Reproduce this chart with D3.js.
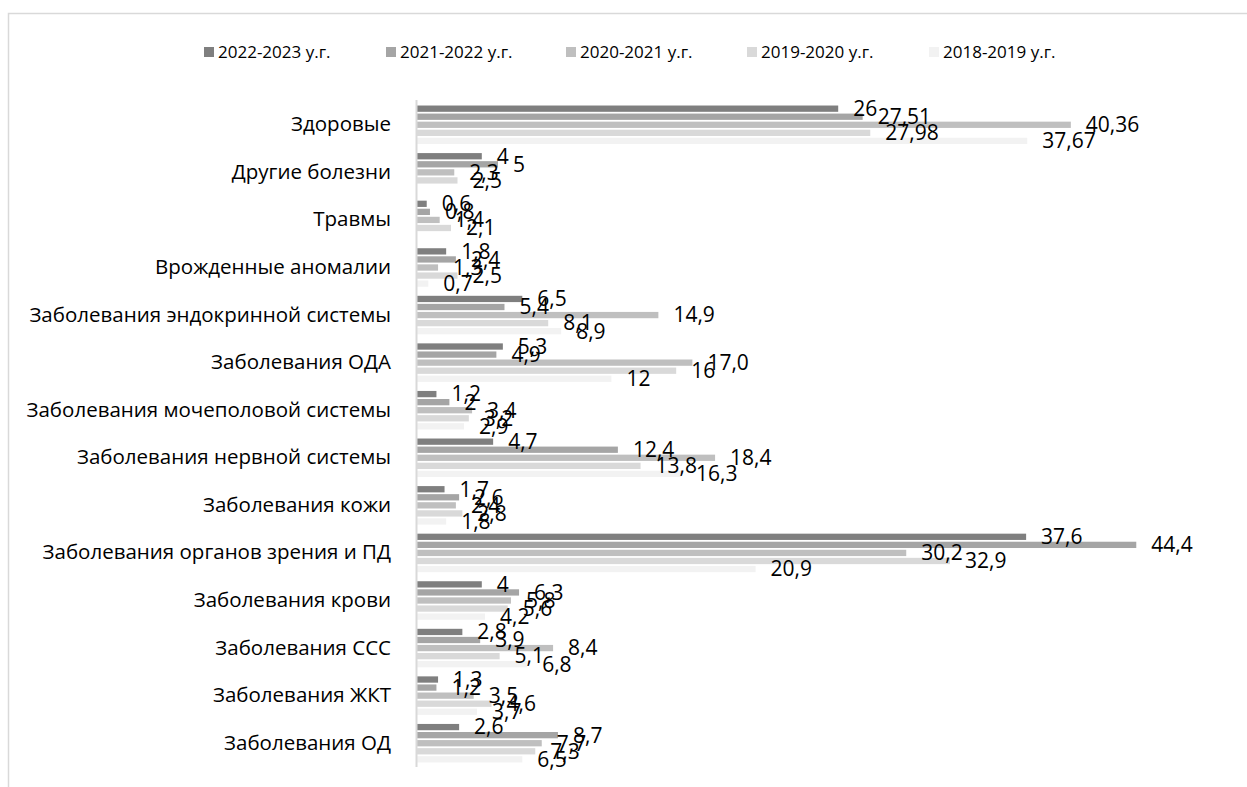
<!DOCTYPE html>
<html>
<head>
<meta charset="utf-8">
<script src="https://cdn.jsdelivr.net/npm/d3@7"></script>
<style>
  html, body { margin: 0; padding: 0; background: #fff; }
  svg { display: block; }
  text { font-family: "Open Sans", "Noto Sans", sans-serif; fill: #000; }
</style>
</head>
<body>
<svg id="chart" width="1247" height="787"></svg>
<script>
const categories = [
  "Здоровые",
  "Другие болезни",
  "Травмы",
  "Врожденные аномалии",
  "Заболевания эндокринной системы",
  "Заболевания ОДА",
  "Заболевания мочеполовой системы",
  "Заболевания нервной системы",
  "Заболевания кожи",
  "Заболевания органов зрения и ПД",
  "Заболевания крови ",
  "Заболевания ССС",
  "Заболевания ЖКТ",
  "Заболевания ОД"
];

const seriesNames = ["2022-2023 у.г.", "2021-2022 у.г.", "2020-2021 у.г.", "2019-2020 у.г.", "2018-2019 у.г."];

// values as shown in the data labels (null = no value)
const s2022_2023 = ["26", "4", "0,6", "1,8", "6,5", "5,3", "1,2", "4,7", "1,7", "37,6", "4", "2,8", "1,3", "2,6"];
const s2021_2022 = ["27,51", "5", "0,8", "2,4", "5,4", "4,9", "2", "12,4", "2,6", "44,4", "6,3", "3,9", "1,2", "8,7"];
const s2020_2021 = ["40,36", "2,3", "1,4", "1,3", "14,9", "17,0", "3,4", "18,4", "2,4", "30,2", "5,8", "8,4", "3,5", "7,7"];
const s2019_2020 = ["27,98", "2,5", "2,1", "2,5", "8,1", "16", "3,2", "13,8", "2,8", "32,9", "5,6", "5,1", "4,6", "7,3"];
const s2018_2019 = ["37,67", null, null, "0,7", "8,9", "12", "2,9", "16,3", "1,8", "20,9", "4,2", "6,8", "3,7", "6,5"];

const seriesValues = [s2022_2023, s2021_2022, s2020_2021, s2019_2020, s2018_2019];
const seriesColors = ["#7f7f7f", "#a5a5a5", "#bfbfbf", "#d9d9d9", "#f2f2f2"];

const svg = d3.select("#chart");

// chart frame
svg.append("rect")
  .attr("x", 8.5).attr("y", 13.5)
  .attr("width", 1260).attr("height", 800)
  .attr("fill", "none").attr("stroke", "#d9d9d9").attr("stroke-width", 1.5);

const x = d3.scaleLinear().domain([0, 50]).range([417, 1227]);
const y0 = d3.scaleBand().domain(categories).range([101, 767]).paddingInner(0.19).paddingOuter(0.095);
const y1 = d3.scaleBand().domain(seriesNames).range([0, y0.bandwidth()]).paddingInner(0.22);

const parse = s => s == null ? null : +s.replace(",", ".");

const rows = [];
categories.forEach((c, i) => {
  seriesNames.forEach((s, j) => {
    const lab = seriesValues[j][i];
    if (lab != null) rows.push({ cat: c, ser: s, j, label: lab, value: parse(lab) });
  });
});

// bars
svg.append("g").selectAll("rect").data(rows).join("rect")
  .attr("x", x(0))
  .attr("y", d => y0(d.cat) + y1(d.ser))
  .attr("width", d => x(d.value) - x(0))
  .attr("height", y1.bandwidth())
  .attr("fill", d => seriesColors[d.j]);

// vertical axis line
svg.append("line")
  .attr("x1", x(0) - 0.5).attr("x2", x(0) - 0.5)
  .attr("y1", 100).attr("y2", 767)
  .attr("stroke", "#d9d9d9").attr("stroke-width", 2);

// category labels
const yAxis = d3.axisLeft(y0).tickSize(0).tickPadding(0);
const gAxis = svg.append("g").attr("transform", `translate(${391},0)`).call(yAxis);
gAxis.select(".domain").remove();
gAxis.selectAll("text")
  .style("font-family", "'Open Sans', sans-serif")
  .style("font-size", "20.5px")
  .attr("fill", "#000");

// data labels
svg.append("g").selectAll("text").data(rows).join("text")
  .attr("x", d => x(d.value) + 15)
  .attr("y", d => y0(d.cat) + y1(d.ser) + y1.bandwidth() / 2)
  .attr("dy", "0.35em")
  .style("font-size", "21px")
  .text(d => d.label);

// legend
const legendX = [204, 386, 566, 747, 929];
const lg = svg.append("g").selectAll("g").data(seriesNames).join("g")
  .attr("transform", (d, i) => `translate(${legendX[i]},52)`);
lg.append("rect").attr("x", 0).attr("y", -5).attr("width", 10).attr("height", 10)
  .attr("fill", (d, i) => seriesColors[i]);
lg.append("text").attr("x", 14).attr("y", 0).attr("dy", "0.35em")
  .style("font-size", "17px")
  .text(d => d);
</script>
</body>
</html>
